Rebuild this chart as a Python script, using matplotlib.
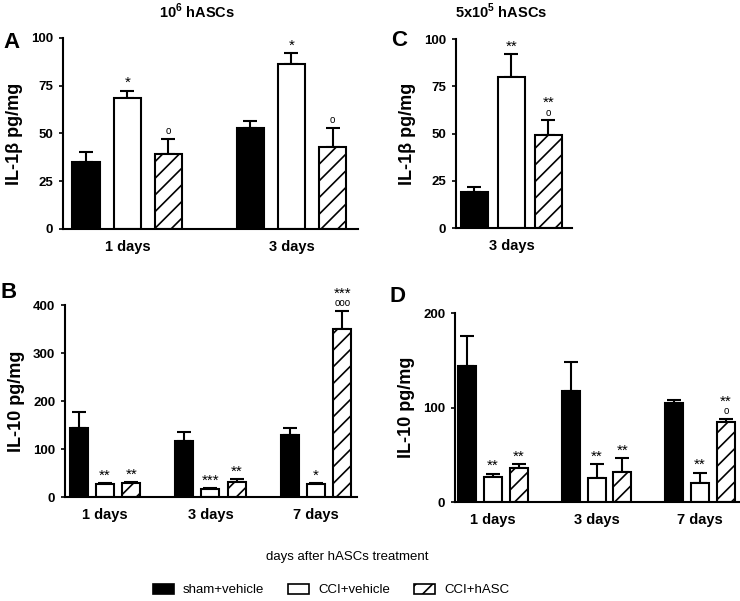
import numpy as np
import matplotlib
matplotlib.use("Agg")
import matplotlib.pyplot as plt
from matplotlib.patches import Patch

plt.rcParams["font.family"] = ["Liberation Sans", "DejaVu Sans"]
plt.rcParams["mathtext.fontset"] = "custom"
plt.rcParams["mathtext.rm"] = "Liberation Sans"
plt.rcParams["mathtext.bf"] = "Liberation Sans:bold"
plt.rcParams["hatch.linewidth"] = 1.2

# groups in every panel
series_labels = ["sham+vehicle", "CCI+vehicle", "CCI+hASC"]

# A: IL-1b, 10^6 hASCs
A_days = ["1 days", "3 days"]
A_sham = [35, 53]
A_sham_sem = [5.5, 3.5]
A_cci = [68.5, 86.5]
A_cci_sem = [4, 5.5]
A_hasc = [39.5, 43]
A_hasc_sem = [7.5, 10]
A_marks = [["", ""], ["*", "*"], ["|o", "|o"]]

# C: IL-1b, 5x10^5 hASCs
C_days = ["3 days"]
C_sham = [19]
C_sham_sem = [2.5]
C_cci = [80]
C_cci_sem = [12]
C_hasc = [49]
C_hasc_sem = [8]
C_marks = [[""], ["**"], ["**|o"]]

# B: IL-10, 10^6 hASCs
B_days = ["1 days", "3 days", "7 days"]
B_sham = [144, 117, 129]
B_sham_sem = [33, 18, 15]
B_cci = [27, 17, 27]
B_cci_sem = [1.5, 1, 2]
B_hasc = [29, 31, 350]
B_hasc_sem = [2, 6, 37]
B_marks = [["", "", ""], ["**", "***", "*"], ["**", "**", "***|ooo"]]

# D: IL-10, 5x10^5 hASCs
D_days = ["1 days", "3 days", "7 days"]
D_sham = [144, 117, 105]
D_sham_sem = [32, 31, 3]
D_cci = [26.5, 25, 20]
D_cci_sem = [3.5, 15, 11]
D_hasc = [36, 32, 85]
D_hasc_sem = [4, 14.5, 3]
D_marks = [["", "", ""], ["**", "**", "**"], ["**", "**", "**|o"]]

colors = ["black", "white", "white"]
hatches = [None, None, "//"]
offsets = [-0.25, 0, 0.25]


def mark(ax, x, y, text):
    stars, _, circles = text.partition("|")
    off = 0.5
    if circles:
        ax.annotate(circles, (x, y), xytext=(0, 2), textcoords="offset points",
                    ha="center", va="bottom", fontsize=7)
        off = 7.5
    if stars:
        ax.annotate(stars, (x, y), xytext=(0, off), textcoords="offset points",
                    ha="center", va="bottom", fontsize=11)


def draw_panel(ax, days, means, sems, marks, ymax, yticks, ylabel, xlim, width):
    x = np.arange(len(days))
    for i in range(3):
        xs = x + offsets[i]
        ax.bar(xs, means[i], width, color=colors[i], edgecolor="black",
               linewidth=1.5, hatch=hatches[i], zorder=2)
        ax.errorbar(xs, means[i], yerr=[np.zeros(len(days)), sems[i]], fmt="none",
                    ecolor="black", elinewidth=1.5, capsize=5, capthick=1.5, zorder=1)
        for j in range(len(days)):
            if marks[i][j]:
                mark(ax, xs[j], means[i][j] + sems[i][j], marks[i][j])
    ax.set_xlim(xlim)
    ax.set_ylim(0, ymax)
    ax.set_yticks(yticks)
    ax.set_xticks(x)
    ax.set_xticklabels(days, fontweight="bold", fontsize=10.5)
    ax.tick_params(axis="x", length=0, pad=8)
    ax.tick_params(axis="y", length=3, width=1.2, pad=4, labelsize=9.5)
    for t in ax.get_yticklabels():
        t.set_fontweight("bold")
    ax.set_ylabel(ylabel, fontweight="bold", fontsize=13, labelpad=6)
    for s in ["top", "right"]:
        ax.spines[s].set_visible(False)
    ax.spines["left"].set_linewidth(1.5)
    ax.spines["bottom"].set_linewidth(1.5)


fig = plt.figure(figsize=(7.4, 6.01), dpi=100)

axA = fig.add_axes([0.0851, 0.619, 0.3986, 0.3178])
draw_panel(axA, A_days, [A_sham, A_cci, A_hasc], [A_sham_sem, A_cci_sem, A_hasc_sem],
           A_marks, 100, [0, 25, 50, 75, 100], "IL-1β pg/mg", (-0.393, 1.405), 0.17)

axC = fig.add_axes([0.6162, 0.6206, 0.1568, 0.3145])
draw_panel(axC, C_days, [C_sham, C_cci, C_hasc], [C_sham_sem, C_cci_sem, C_hasc_sem],
           C_marks, 100, [0, 25, 50, 75, 100], "IL-1β pg/mg", (-0.375, 0.409), 0.176)

axB = fig.add_axes([0.0878, 0.173, 0.3946, 0.3195])
draw_panel(axB, B_days, [B_sham, B_cci, B_hasc], [B_sham_sem, B_cci_sem, B_hasc_sem],
           B_marks, 400, [0, 100, 200, 300, 400], "IL-10 pg/mg", (-0.379, 2.389), 0.17)

axD = fig.add_axes([0.6149, 0.1647, 0.3838, 0.3145])
draw_panel(axD, D_days, [D_sham, D_cci, D_hasc], [D_sham_sem, D_cci_sem, D_hasc_sem],
           D_marks, 200, [0, 100, 200], "IL-10 pg/mg", (-0.367, 2.377), 0.174)

# panel letters and titles
for letter, px, py in [("A", 11, 42), ("C", 399, 40), ("B", 9, 292), ("D", 398, 296)]:
    fig.text(px / 740, 1 - py / 601, letter, fontsize=16, fontweight="bold",
             ha="center", va="center")
fig.text(197 / 740, 1 - 11 / 601, r"10$^\mathbf{6}$ hASCs", fontsize=10.5,
         fontweight="bold", ha="center", va="center")
fig.text(501 / 740, 1 - 11 / 601, r"5x10$^\mathbf{5}$ hASCs", fontsize=10.5,
         fontweight="bold", ha="center", va="center")

fig.text(347 / 740, 1 - 557 / 601, "days after hASCs treatment", fontsize=9.5,
         ha="center", va="center")

handles = [Patch(facecolor=colors[i], edgecolor="black", hatch=hatches[i], linewidth=1.2)
           for i in range(3)]
fig.legend(handles, series_labels, loc="center", bbox_to_anchor=(331 / 740, 1 - 590 / 601),
           ncol=3, frameon=False, fontsize=9.5, handlelength=1.6, handleheight=0.85,
           columnspacing=1.8, handletextpad=0.7)

fig.savefig("out.png", dpi=100)
